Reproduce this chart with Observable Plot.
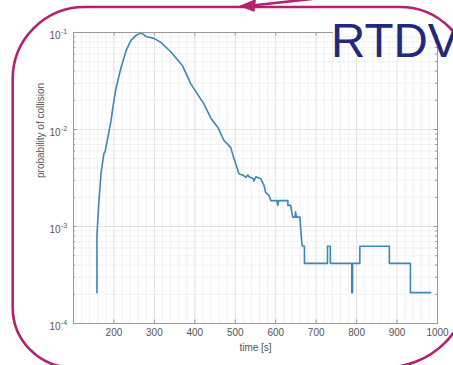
<!DOCTYPE html>
<html>
<head>
<meta charset="utf-8">
<script src="https://cdn.jsdelivr.net/npm/d3@7"></script>
<script src="https://cdn.jsdelivr.net/npm/@observablehq/plot@0.6"></script>
<style>
  html, body { margin: 0; padding: 0; background: #fff; overflow: hidden; }
  svg { display: block; }
</style>
</head>
<body>
<div id="chart"></div>
<script>
// Collision probability versus time (residence-time distribution)
const time = [158, 158, 160, 163, 168, 175, 178, 185, 193, 197, 205, 217, 230, 242, 254, 267, 272, 279, 290, 299,
  316, 341, 365, 370, 390, 407, 422, 440, 457, 472, 489, 496, 500, 509, 521, 526, 531, 534, 543, 546,
  551, 563, 571, 575, 583, 588, 603, 605, 607, 630, 630, 637, 642, 648, 649, 651, 660, 662, 665, 667,
  671, 671, 728, 728, 735, 735, 788, 788, 790, 790, 808, 808, 881, 881, 933, 933, 983];
const prob = [2.08e-4, 8.1e-4, 1.15e-3, 1.85e-3, 3.5e-3, 5.6e-3, 5.9e-3, 8.3e-3, 1.24e-2, 1.65e-2, 2.65e-2, 4.26e-2, 6.5e-2, 8.3e-2, 9.3e-2, 9.85e-2, 9.6e-2, 9.1e-2, 8.9e-2, 8.7e-2,
  7.9e-2, 6.3e-2, 4.8e-2, 4.5e-2, 2.95e-2, 2.3e-2, 1.85e-2, 1.3e-2, 1.05e-2, 7.7e-3, 6.5e-3, 5.1e-3, 4.6e-3, 3.5e-3, 3.35e-3, 3.2e-3, 3.4e-3, 3.25e-3, 3.15e-3, 2.95e-3,
  3.25e-3, 3.1e-3, 2.65e-3, 2.25e-3, 2.1e-3, 1.85e-3, 1.85e-3, 1.65e-3, 1.85e-3, 1.85e-3, 1.65e-3, 1.65e-3, 1.25e-3, 1.25e-3, 1.42e-3, 1.25e-3, 1.25e-3, 9e-4, 6.5e-4, 6.25e-4,
  6.25e-4, 4.17e-4, 4.17e-4, 6.25e-4, 6.25e-4, 4.17e-4, 4.17e-4, 2.08e-4, 2.08e-4, 4.17e-4, 4.17e-4, 6.25e-4, 6.25e-4, 4.17e-4, 4.17e-4, 2.08e-4, 2.08e-4];

const xTicks = [200, 300, 400, 500, 600, 700, 800, 900, 1000];
const yTicks = [1e-4, 1e-3, 1e-2, 1e-1];
const yExponents = ["-4", "-3", "-2", "-1"];
const xLabel = "time [s]";
const yLabel = "probability of collision";
const title = "RTDV";

const series = time.map((t, i) => ({t, p: prob[i]}));

// minor grid positions
const xMinor = d3.range(120, 1000, 20).filter(v => v % 100 !== 0);
const yMinor = [];
for (let e = -4; e < -1; e++) for (let k = 2; k < 10; k++) yMinor.push(k * 10 ** e);

const W = 453, H = 365;
const mL = 73, mR = 16, mT = 32, mB = 42;
const innerW = W - mL - mR, innerH = H - mT - mB;
const tickLen = 3.5;
const axisColor = "#9a9a9a";

const chart = Plot.plot({
  width: W, height: H,
  marginLeft: mL, marginRight: mR, marginTop: mT, marginBottom: mB,
  style: {fontFamily: "'Liberation Sans', Arial, Helvetica, sans-serif", fontSize: "10px", color: "#555", background: "#fff"},
  x: {domain: [100, 1000], axis: null},
  y: {type: "log", domain: [1e-4, 1e-1], axis: null},
  marks: [
    // grid
    Plot.ruleX(xMinor, {stroke: "#ededed", strokeWidth: 0.8}),
    Plot.ruleY(yMinor, {stroke: "#ededed", strokeWidth: 0.8}),
    Plot.ruleX(xTicks, {stroke: "#dedede", strokeWidth: 0.9}),
    Plot.ruleY(yTicks, {stroke: "#dedede", strokeWidth: 0.9}),
    // data
    Plot.line(series, {x: "t", y: "p", stroke: "#3a89b3", strokeWidth: 1.6}),
    // box and inward ticks
    Plot.frame({stroke: axisColor, strokeWidth: 1}),
    Plot.tickX(xTicks, {x: d => d, stroke: axisColor, insetTop: innerH - tickLen}),
    Plot.tickX(xTicks, {x: d => d, stroke: axisColor, insetBottom: innerH - tickLen}),
    Plot.tickY(yTicks, {y: d => d, stroke: axisColor, insetRight: innerW - tickLen}),
    Plot.tickY(yTicks, {y: d => d, stroke: axisColor, insetLeft: innerW - tickLen}),
    Plot.tickY(yMinor, {y: d => d, stroke: axisColor, insetRight: innerW - 2}),
    Plot.tickY(yMinor, {y: d => d, stroke: axisColor, insetLeft: innerW - 2}),
    // tick labels
    Plot.text(xTicks, {x: d => d, frameAnchor: "bottom", dy: 12, text: d => String(d), fill: "#555", fontSize: 10}),
    Plot.text(yTicks, {y: d => d, frameAnchor: "left", dx: -13, dy: 3.5, text: () => "10", textAnchor: "end", fill: "#555", fontSize: 10}),
    Plot.text(yTicks, {y: d => d, frameAnchor: "left", dx: -12.5, dy: -0.5, text: (d, i) => yExponents[i], textAnchor: "start", fill: "#555", fontSize: 7}),
    // axis titles
    Plot.text([xLabel], {frameAnchor: "bottom", dy: 27, fill: "#555", fontSize: 10}),
    Plot.text([yLabel], {frameAnchor: "left", dx: -33, rotate: -90, fill: "#555", fontSize: 10})
  ]
});

document.getElementById("chart").appendChild(chart);

// slide decoration: rounded border, pointer arrow and heading
const svg = d3.select(chart);
const frameColor = "#b3216f";

// rounded border with individual corner radii
function roundedBox(x0, y0, x1, y1, tl, tr, br, bl) {
  return `M${x0 + tl},${y0} L${x1 - tr},${y0} A${tr},${tr} 0 0 1 ${x1},${y0 + tr}` +
    ` L${x1},${y1 - br} A${br},${br} 0 0 1 ${x1 - br},${y1}` +
    ` L${x0 + bl},${y1} A${bl},${bl} 0 0 1 ${x0},${y1 - bl}` +
    ` L${x0},${y0 + tl} A${tl},${tl} 0 0 1 ${x0 + tl},${y0} Z`;
}

svg.append("rect")
  .attr("x", 333).attr("y", 20).attr("width", 120).attr("height", 15)
  .attr("fill", "#fff");
svg.append("path")
  .attr("d", roundedBox(12.7, 7, 470, 367.5, 72, 70, 85, 60))
  .attr("fill", "none").attr("stroke", frameColor).attr("stroke-width", 2.6);
svg.append("line")
  .attr("x1", 252).attr("y1", 5.5).attr("x2", 312).attr("y2", -1)
  .attr("stroke", frameColor).attr("stroke-width", 2.6);
svg.append("path")
  .attr("d", "M239,6 L256,-1 L254.5,12 Z")
  .attr("fill", frameColor);
svg.append("text")
  .attr("x", 331).attr("y", 57)
  .attr("text-anchor", "start")
  .attr("font-family", "'Liberation Sans', Arial, Helvetica, sans-serif")
  .attr("font-size", 47.5)
  .attr("fill", "#22297a")
  .text(title);
</script>
</body>
</html>
